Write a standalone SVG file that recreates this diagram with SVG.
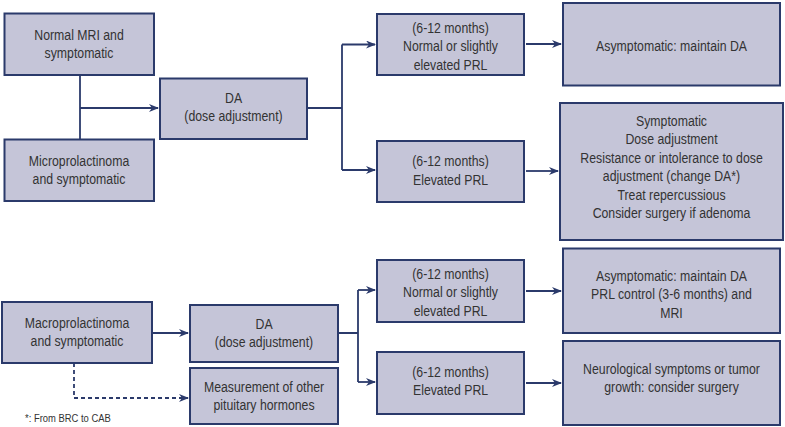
<svg xmlns="http://www.w3.org/2000/svg" width="785" height="427" viewBox="0 0 785 427">
<style>
.b{fill:#c5c5d8;stroke:#2b3a6b;stroke-width:2}
.t{font-family:"Liberation Sans",Arial,sans-serif;font-size:15px;fill:#333;text-anchor:middle;transform-box:fill-box;transform-origin:center;transform:scaleX(0.82)}
.c{fill:none;stroke:#2b3a6b;stroke-width:1.8}
.d{stroke-dasharray:4,3}
.f{font-family:"Liberation Sans",Arial,sans-serif;font-size:11.5px;fill:#333;transform-box:fill-box;transform-origin:left center;transform:scaleX(0.82)}
</style>
<defs>
<marker id="a" markerWidth="10" markerHeight="8" refX="9" refY="4" orient="auto" markerUnits="userSpaceOnUse">
<path d="M0,0 L10,4 L0,8 L3,4 Z" fill="#2b3a6b"/>
</marker>
</defs>
<rect width="785" height="427" fill="#fff"/>
<g id="n1"><rect class="b" x="4.5" y="13.5" width="149.5" height="61.5"/><text class="t" x="79" y="40">Normal MRI and</text><text class="t" x="79" y="58.5">symptomatic</text></g>
<g id="n2"><rect class="b" x="4.5" y="139.5" width="149.5" height="61.5"/><text class="t" x="79" y="166">Microprolactinoma</text><text class="t" x="79" y="184.5">and symptomatic</text></g>
<g id="n3"><rect class="b" x="160" y="78.5" width="147" height="60.5"/><text class="t" x="233.5" y="103">DA</text><text class="t" x="233.5" y="121.5">(dose adjustment)</text></g>
<g id="n4"><rect class="b" x="377" y="14" width="147" height="61"/><text class="t" x="450.5" y="33">(6-12 months)</text><text class="t" x="450.5" y="51.5">Normal or slightly</text><text class="t" x="450.5" y="70">elevated PRL</text></g>
<g id="n5"><rect class="b" x="377" y="141" width="147" height="61"/><text class="t" x="450.5" y="166.5">(6-12 months)</text><text class="t" x="450.5" y="185">Elevated PRL</text></g>
<g id="n6"><rect class="b" x="563" y="3" width="217" height="82.5"/><text class="t" x="671.5" y="51">Asymptomatic: maintain DA</text></g>
<g id="n7"><rect class="b" x="560" y="103" width="223" height="137"/><text class="t" x="671.5" y="126">Symptomatic</text><text class="t" x="671.5" y="144.5">Dose adjustment</text><text class="t" x="671.5" y="163">Resistance or intolerance to dose</text><text class="t" x="671.5" y="181.5">adjustment (change DA*)</text><text class="t" x="671.5" y="200">Treat repercussious</text><text class="t" x="671.5" y="218.5">Consider surgery if adenoma</text></g>
<g id="n8"><rect class="b" x="2" y="302" width="150" height="61"/><text class="t" x="77" y="328">Macroprolactinoma</text><text class="t" x="77" y="346.5">and symptomatic</text></g>
<g id="n9"><rect class="b" x="190" y="305" width="148" height="57"/><text class="t" x="264" y="329">DA</text><text class="t" x="264" y="347.5">(dose adjustment)</text></g>
<g id="n10"><rect class="b" x="190" y="368" width="148" height="56"/><text class="t" x="264" y="392">Measurement of other</text><text class="t" x="264" y="410.5">pituitary hormones</text></g>
<g id="n11"><rect class="b" x="377" y="260" width="147" height="62"/><text class="t" x="450.5" y="279">(6-12 months)</text><text class="t" x="450.5" y="297.5">Normal or slightly</text><text class="t" x="450.5" y="316">elevated PRL</text></g>
<g id="n12"><rect class="b" x="377" y="352" width="147" height="62"/><text class="t" x="450.5" y="377">(6-12 months)</text><text class="t" x="450.5" y="395.5">Elevated PRL</text></g>
<g id="n13"><rect class="b" x="563" y="248.5" width="217" height="84.5"/><text class="t" x="671.5" y="281">Asymptomatic: maintain DA</text><text class="t" x="671.5" y="299.5">PRL control (3-6 months) and</text><text class="t" x="671.5" y="318">MRI</text></g>
<g id="n14"><rect class="b" x="563" y="341" width="217" height="84"/><text class="t" x="671.5" y="374">Neurological symptoms or tumor</text><text class="t" x="671.5" y="392.5">growth: consider surgery</text></g>
<text class="f" x="25" y="422">*: From BRC to CAB</text>
<g id="connectors">
<path class="c" d="M80,75 V139.5"/>
<path class="c" d="M80,108 H158" marker-end="url(#a)"/>
<path class="c" d="M307,108 H342 M342,44.5 V170"/>
<path class="c" d="M342,44.5 H375" marker-end="url(#a)"/>
<path class="c" d="M342,170 H375" marker-end="url(#a)"/>
<path class="c" d="M526,44 H561" marker-end="url(#a)"/>
<path class="c" d="M526,171 H558" marker-end="url(#a)"/>
<path class="c" d="M152,333 H188" marker-end="url(#a)"/>
<path class="c d" d="M74,363 V398 H188" marker-end="url(#a)"/>
<path class="c" d="M338,333 H358 M358,290 V382"/>
<path class="c" d="M358,290 H375" marker-end="url(#a)"/>
<path class="c" d="M358,382 H375" marker-end="url(#a)"/>
<path class="c" d="M526,291 H561" marker-end="url(#a)"/>
<path class="c" d="M526,383 H561" marker-end="url(#a)"/>
</g>
</svg>
